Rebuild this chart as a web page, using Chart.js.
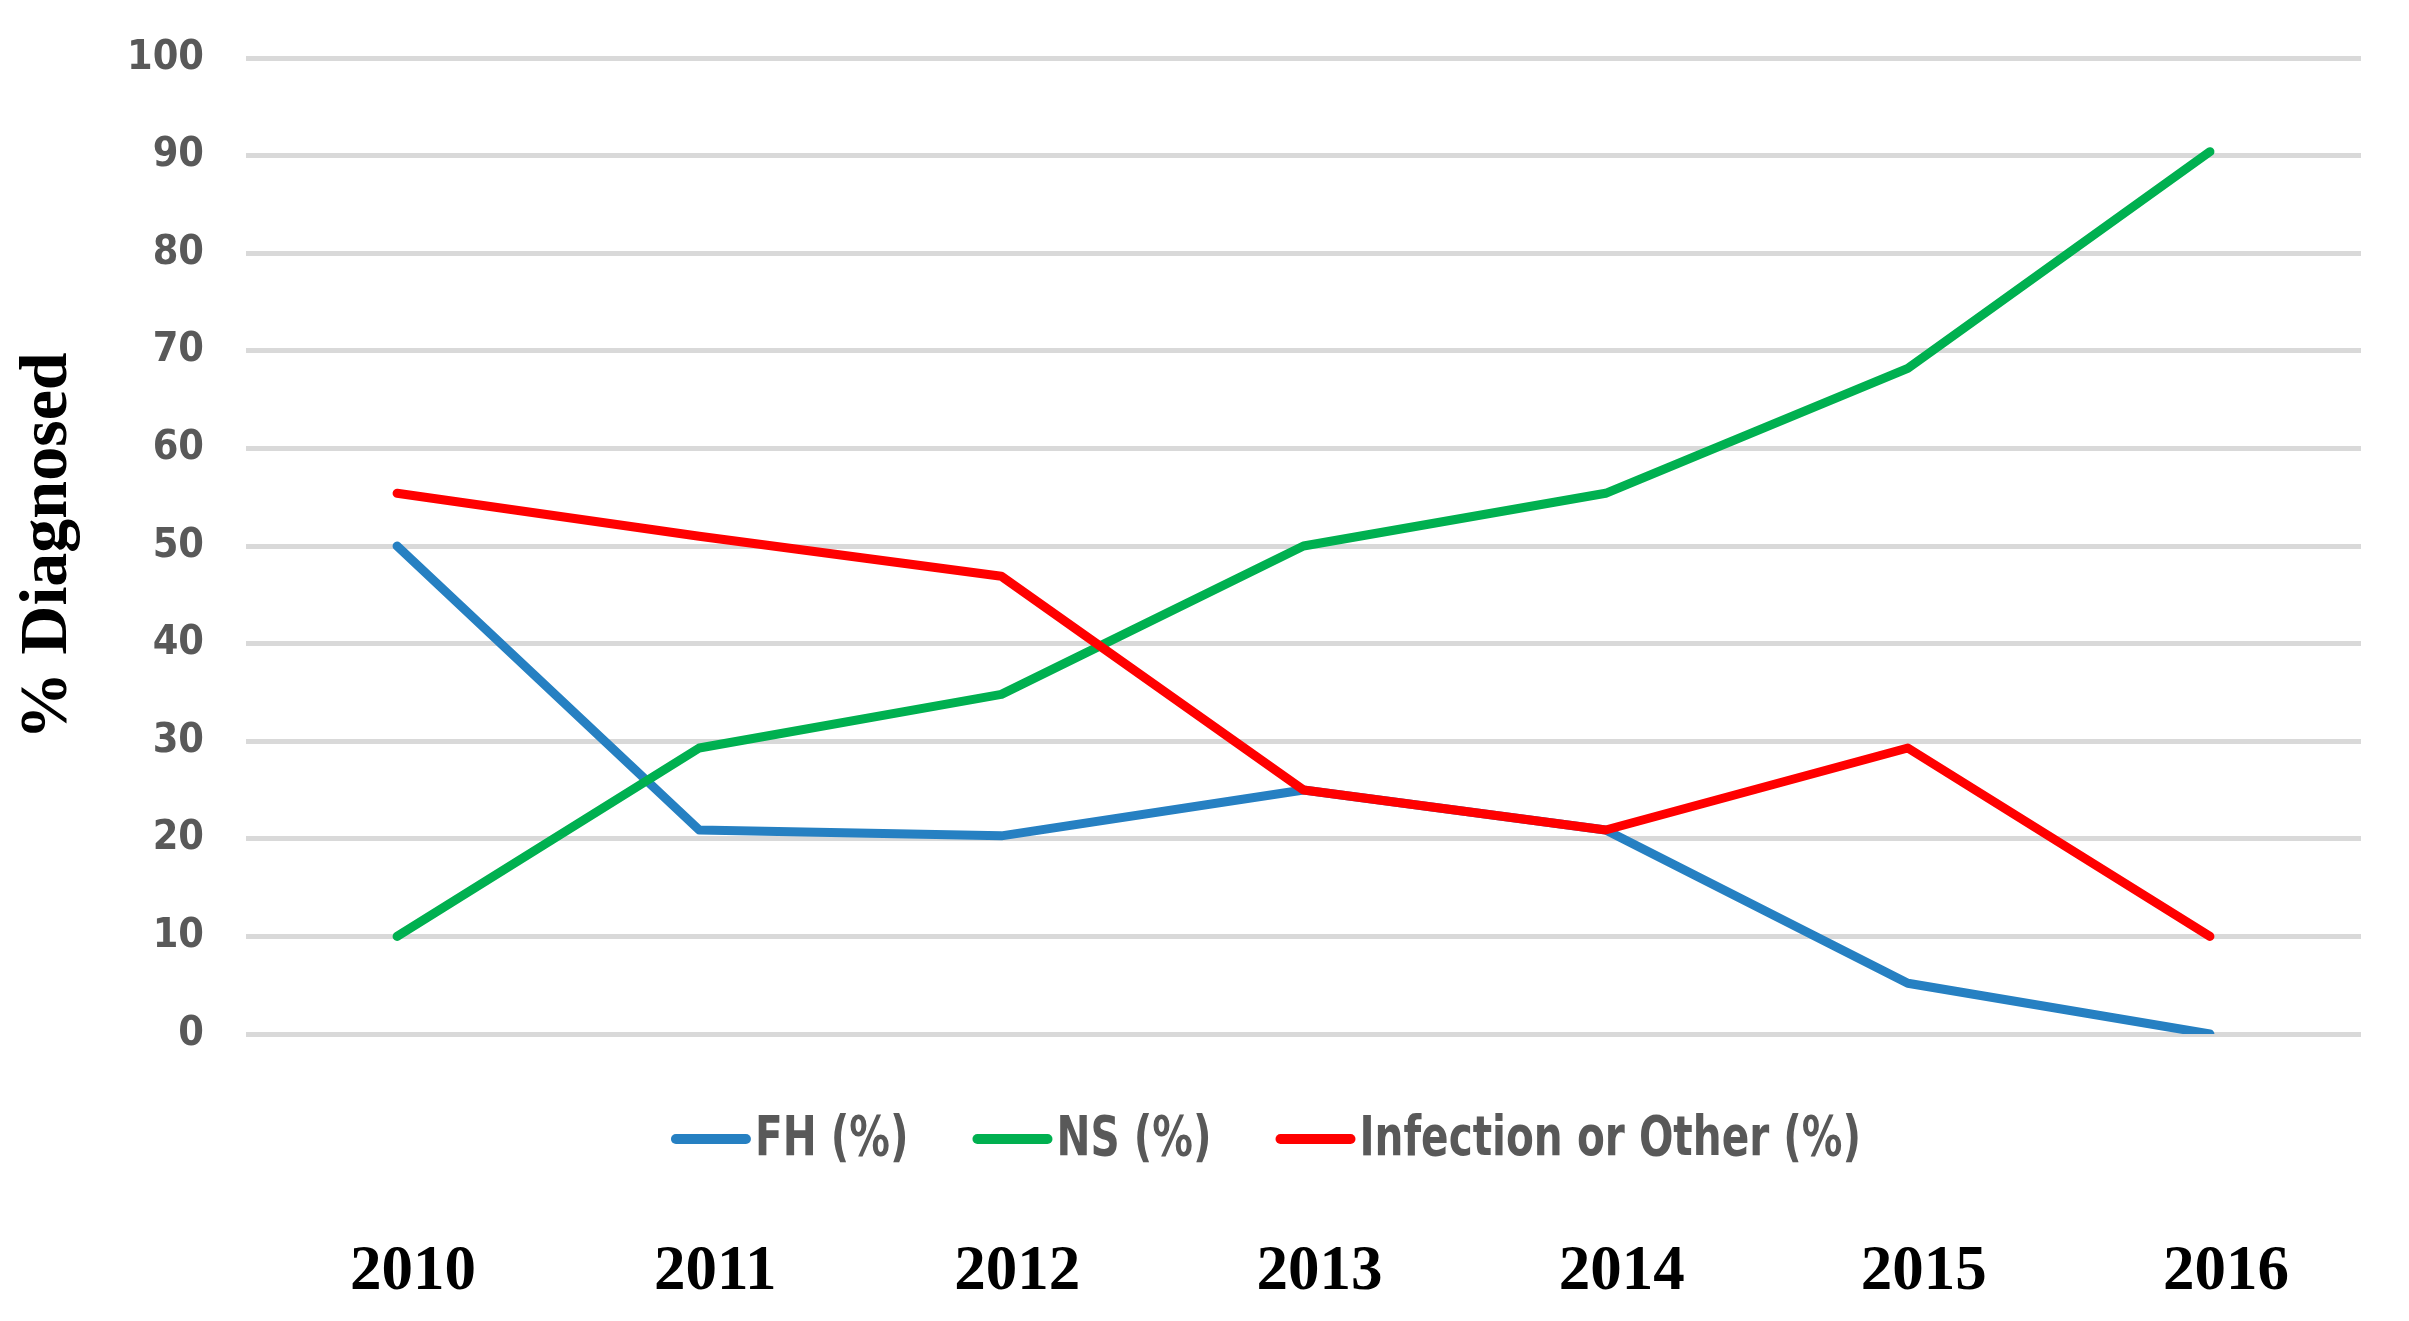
<!DOCTYPE html>
<html>
<head>
<meta charset="utf-8">
<script src="https://cdn.jsdelivr.net/npm/chart.js@4.4.0/dist/chart.umd.min.js"></script>
<style>
  html, body { margin: 0; padding: 0; background: #ffffff; }
  #wrap { width: 2409px; height: 1321px; }
</style>
</head>
<body>
<div id="wrap"><canvas id="chart" width="2409" height="1321"></canvas></div>
<script>
const years = ["2010", "2011", "2012", "2013", "2014", "2015", "2016"];
const fhValues = [50, 20.9, 20.3, 25, 20.9, 5.2, 0];
const nsValues = [10, 29.3, 34.8, 50, 55.4, 68.2, 90.4];
const infectionValues = [55.4, 51, 46.9, 25, 20.9, 29.3, 10];
const seriesNames = ["FH (%)", "NS (%)", "Infection or Other (%)"];
const yTicks = [0, 10, 20, 30, 40, 50, 60, 70, 80, 90, 100];

const sansFamily = "'Liberation Sans Narrow', 'DejaVu Sans Condensed', 'Noto Sans', sans-serif";
const serifFamily = "'Liberation Serif', 'DejaVu Serif', serif";
const gray = "#595959";

// legend sits between the plot and the year labels, so draw it here
const middleLegend = {
  id: "middleLegend",
  afterDraw(chart) {
    const ctx = chart.ctx;
    const sets = chart.data.datasets;
    const y = 1139;
    const lineLen = 80;
    const gap = 4;
    const spacing = 64;
    const squeeze = 0.82; // the substitute font is wider than the original
    ctx.save();
    ctx.font = "bold 55px " + sansFamily;
    const widths = sets.map((d) => ctx.measureText(d.label).width * squeeze);
    let total = 0;
    widths.forEach((w) => (total += lineLen + gap + w));
    total += spacing * (sets.length - 1);
    let x = 1266 - total / 2;
    sets.forEach((d, i) => {
      ctx.strokeStyle = d.borderColor;
      ctx.lineWidth = 10;
      ctx.lineCap = "round";
      ctx.beginPath();
      ctx.moveTo(x + 5, y);
      ctx.lineTo(x + lineLen - 5, y);
      ctx.stroke();
      ctx.save();
      ctx.translate(x + lineLen + gap, y + 2);
      ctx.scale(squeeze, 1);
      ctx.fillStyle = gray;
      ctx.textBaseline = "middle";
      ctx.textAlign = "left";
      ctx.fillText(d.label, 0, 0);
      ctx.restore();
      x += lineLen + gap + widths[i] + spacing;
    });
    ctx.restore();
  },
};

// later series are painted on top, like in the original
function makeSet(label, data, color, order) {
  return {
    label,
    data,
    order,
    borderColor: color,
    backgroundColor: color,
    borderWidth: 9,
    borderCapStyle: "round",
    borderJoinStyle: "round",
    pointRadius: 0,
    tension: 0,
    fill: false,
  };
}

const chart = new Chart(document.getElementById("chart"), {
  type: "line",
  data: {
    labels: years,
    datasets: [
      makeSet(seriesNames[0], fhValues, "#2680C2", 2),
      makeSet(seriesNames[1], nsValues, "#00B050", 1),
      makeSet(seriesNames[2], infectionValues, "#FF0000", 0),
    ],
  },
  options: {
    responsive: false,
    animation: false,
    layout: { padding: { top: 58, right: 48, bottom: 0, left: 0 } },
    plugins: {
      legend: { display: false },
      tooltip: { enabled: false },
    },
    scales: {
      x: {
        offset: true,
        grid: { display: false, drawTicks: false },
        border: { display: false },
        ticks: {
          padding: 201,
          labelOffset: 16,
          color: "#000000",
          font: { family: serifFamily, size: 63, weight: "bold" },
          maxRotation: 0,
          autoSkip: false,
        },
        afterFit(scale) {
          scale.height = 1321 - 1034;
          scale.paddingLeft = 0;
          scale.paddingRight = 0;
        },
      },
      y: {
        min: 0,
        max: 100,
        afterBuildTicks(scale) {
          scale.ticks = yTicks.map((v) => ({ value: v }));
        },
        grid: { color: "#D9D9D9", lineWidth: 5, drawTicks: false },
        border: { display: false },
        ticks: {
          padding: 42,
          color: gray,
          font: { family: sansFamily, size: 41, weight: "bold" },
        },
        title: {
          display: true,
          text: "% Diagnosed",
          color: "#000000",
          padding: { top: 8, bottom: 0 },
          font: { family: serifFamily, size: 68, weight: "bold" },
        },
        afterFit(scale) {
          scale.width = 246;
          scale.paddingTop = 0;
          scale.paddingBottom = 0;
        },
      },
    },
  },
  plugins: [middleLegend],
});
</script>
</body>
</html>
